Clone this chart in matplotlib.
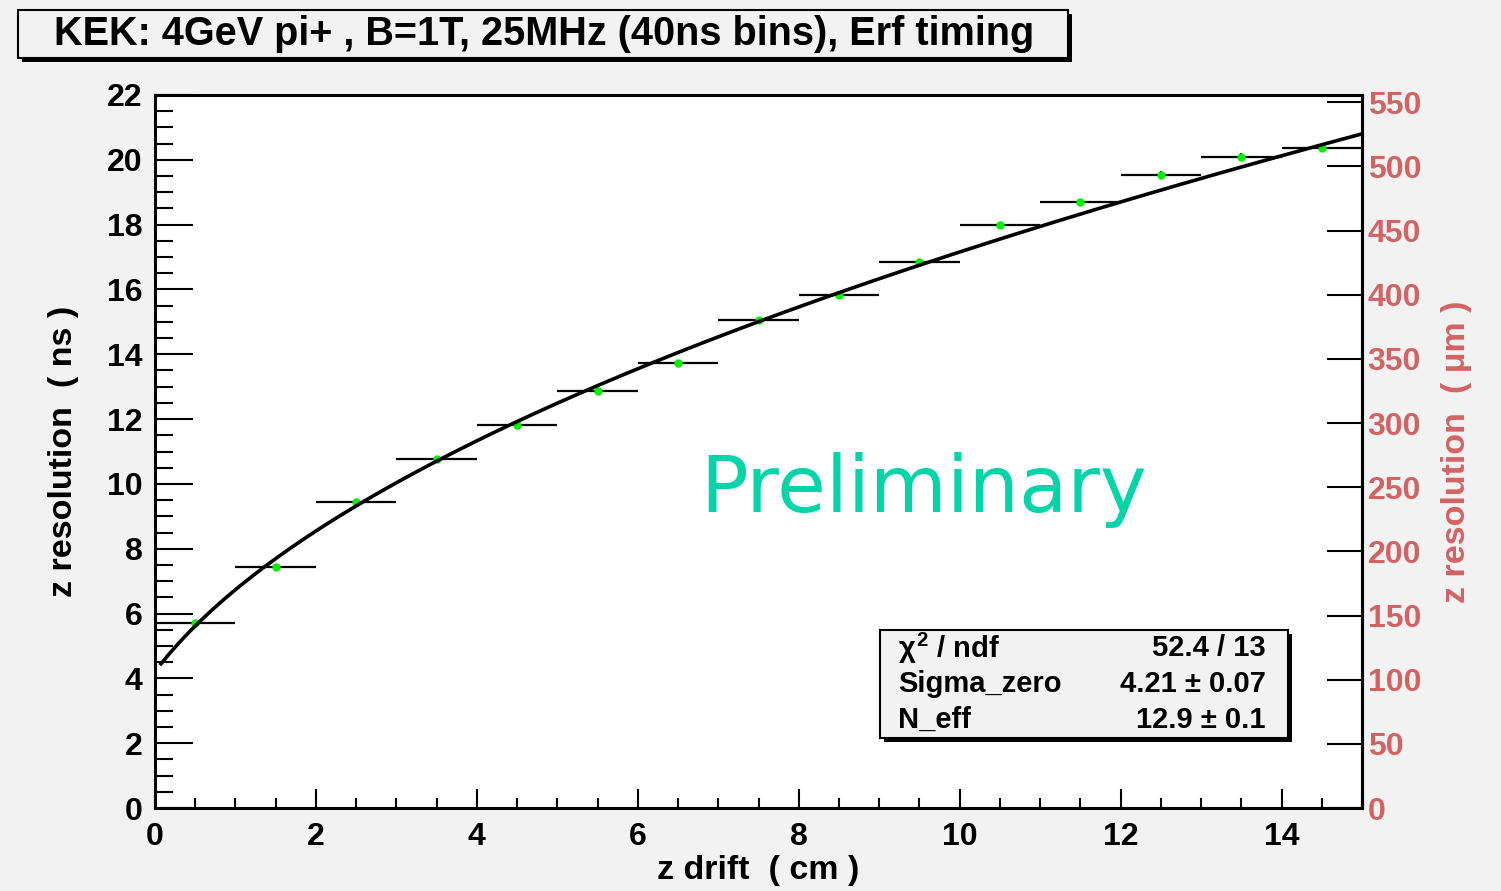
import numpy as np
import matplotlib
matplotlib.use("Agg")
from matplotlib import pyplot as plt
from matplotlib.patches import Rectangle
from matplotlib.ticker import MultipleLocator

# measured resolution per drift bin
drift_cm = [0.5, 1.5, 2.5, 3.5, 4.5, 5.5, 6.5, 7.5, 8.5, 9.5, 10.5, 11.5, 12.5, 13.5, 14.5]
res_ns = [5.71, 7.44, 9.43, 10.77, 11.82, 12.86, 13.74, 15.06, 15.83, 16.84,
          17.99, 18.69, 19.54, 20.08, 20.37]
res_err = [0.03, 0.03, 0.04, 0.04, 0.05, 0.05, 0.06, 0.07, 0.08, 0.09,
           0.10, 0.11, 0.12, 0.12, 0.13]
bin_half = [0.5] * 15

# fit parameters
sigma_zero = 4.21
n_eff = 12.9
diff_coef = 18.89  # ns / sqrt(cm)
fit_range = [0.075, 15.0]

title = "KEK: 4GeV pi+ , B=1T, 25MHz (40ns bins), Erf timing"
stats_rows = [(r"$\chi^{2}$ / ndf", "52.4 / 13"),
              ("Sigma_zero", "4.21 \u00b1 0.07"),
              ("N_eff", "12.9 \u00b1 0.1")]
um_max = 555.7

W, H = 1501, 891
BG = "#f2f2f2"
RED = "#d36363"
plt.rcParams["font.family"] = ["Liberation Sans", "DejaVu Sans"]
plt.rcParams["font.weight"] = "bold"
plt.rcParams["axes.labelweight"] = "bold"
plt.rcParams["mathtext.fontset"] = "custom"
plt.rcParams["mathtext.rm"] = "Liberation Sans:bold"
plt.rcParams["mathtext.it"] = "Liberation Sans:bold"


def fx(px):
    return px / W


def fy(py):
    return 1 - py / H


def box(fig, x0, y0, x1, y1, sh=4):
    fig.patches.append(Rectangle((fx(x0 + sh), fy(y1 + sh)), fx(x1 - x0), (y1 - y0) / H,
                                 transform=fig.transFigure, facecolor="black",
                                 edgecolor="none", zorder=5))
    fig.patches.append(Rectangle((fx(x0), fy(y1)), fx(x1 - x0), (y1 - y0) / H,
                                 transform=fig.transFigure, facecolor=BG,
                                 edgecolor="black", linewidth=1.5, zorder=6))


fig = plt.figure(figsize=(W / 100, H / 100), dpi=100, facecolor=BG)
ax = fig.add_axes([fx(155), fy(808), fx(1362 - 155), (808 - 95) / H])
ax.set_facecolor("white")

ax.errorbar(drift_cm, res_ns, xerr=bin_half, yerr=res_err, fmt="o", ms=5,
            mfc="#00ee00", mec="#00ee00", ecolor="black", elinewidth=1.6,
            capsize=0, zorder=3)
z = np.linspace(fit_range[0], fit_range[1], 300)
ax.plot(z, np.sqrt(sigma_zero ** 2 + diff_coef ** 2 * z / n_eff), color="black",
        lw=2.6, zorder=4)

ax.set_xlim(0, 15)
ax.set_ylim(0, 22)
ax.xaxis.set_major_locator(MultipleLocator(2))
ax.xaxis.set_minor_locator(MultipleLocator(0.5))
ax.yaxis.set_major_locator(MultipleLocator(2))
ax.yaxis.set_minor_locator(MultipleLocator(0.5))
ax.tick_params(axis="y", which="major", direction="in", length=27, width=1.5,
               labelsize=23, pad=9, right=False)
ax.tick_params(axis="y", which="minor", direction="in", length=13, width=1.5, right=False)
ax.tick_params(axis="x", which="major", direction="in", length=14, width=1.5,
               labelsize=23, pad=10, top=False)
ax.tick_params(axis="x", which="minor", direction="in", length=7, width=1.5, top=False)
for s in ax.spines.values():
    s.set_linewidth(2.2)
ax.set_xlabel("z drift  ( cm )", fontsize=24.5, labelpad=2)
ax.set_ylabel("z resolution  ( ns )", fontsize=24.5, labelpad=20)

ax2 = ax.twinx()
ax2.set_ylim(0, um_max)
ax2.yaxis.set_major_locator(MultipleLocator(50))
ax2.tick_params(axis="y", direction="in", length=25, width=1.5, labelsize=23,
                labelcolor=RED, pad=4)
ax2.spines["right"].set_linewidth(2.2)
ax2.set_ylabel("z resolution  ( \u03bcm )", fontsize=24.5, color=RED, labelpad=14)

ax.text(0.637, 0.446, "Preliminary", transform=ax.transAxes, fontsize=57,
        color="#00d4a8", fontweight="normal", family=["DejaVu Sans"],
        ha="center", va="center", zorder=6)

# title box
box(fig, 18, 10, 1068, 58)
fig.text(fx(544), fy(34), title, fontsize=28.5, ha="center", va="center", zorder=7)

# fit statistics box
box(fig, 880, 630, 1288, 738)
for i, (name, val) in enumerate(stats_rows):
    y = 648 + i * 36
    fig.text(fx(898), fy(y), name, fontsize=21, ha="left", va="center", zorder=7)
    fig.text(fx(1266), fy(y), val, fontsize=21, ha="right", va="center", zorder=7)

plt.savefig("out.png", dpi=100, facecolor=BG)
